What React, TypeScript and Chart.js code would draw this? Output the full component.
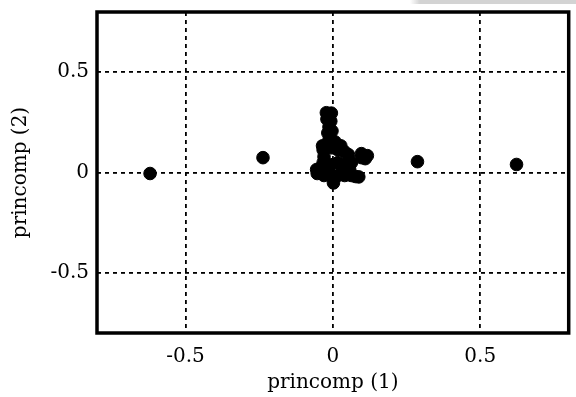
import React, { useEffect, useRef } from "react";
import { Chart, registerables } from "chart.js";

Chart.register(...registerables);

// Principal component scores
const pc1: number[] = [
  -0.62, -0.237, 0.287, 0.623,
  -0.022, -0.005, -0.02, -0.007, -0.013, -0.003, -0.017,
  -0.035, -0.033, -0.013, 0.007, 0.027, -0.003, 0.017, 0.04, 0.053, -0.03,
  0.097, 0.117, 0.11, 0.097,
  -0.055, -0.053, -0.04, -0.033, -0.03, -0.017, -0.007, -0.007, 0.017, 0.017,
  0.033, 0.04, 0.04, 0.057, 0.063, 0.063, 0.077, 0.088,
  0.002,
];
const pc2: number[] = [
  -0.005, 0.074, 0.054, 0.04,
  0.298, 0.296, 0.266, 0.256, 0.227, 0.207, 0.197,
  0.133, 0.113, 0.163, 0.153, 0.133, 0.123, 0.113, 0.103, 0.089, 0.079,
  0.094, 0.084, 0.069, 0.074,
  0.015, -0.005, 0.025, 0.049, -0.015, 0.015, 0.039, -0.015, 0.049, -0.015,
  0.015, 0.039, -0.015, 0.015, 0.049, -0.015, -0.02, -0.022,
  -0.052,
];

const xTicks: number[] = [-0.5, 0, 0.5];
const yTicks: number[] = [-0.5, 0, 0.5];
const xTitle = "princomp (1)";
const yTitle = "princomp (2)";

const FONT = "'DejaVu Serif', 'Liberation Serif', serif";

const framePlugin = {
  id: "frame",
  afterDraw(chart: any) {
    const { ctx, chartArea } = chart;
    const { left, top, right, bottom } = chartArea;
    ctx.save();
    ctx.strokeStyle = "#000";
    ctx.lineWidth = 3.5;
    ctx.strokeRect(left, top, right - left, bottom - top);
    ctx.restore();
  },
};

export default function App() {
  const canvasRef = useRef<HTMLCanvasElement | null>(null);

  useEffect(() => {
    const canvas = canvasRef.current;
    if (!canvas) return;
    const points = pc1.map((x, i) => ({ x, y: pc2[i] }));
    const fmt = (v: any) => (Number(v) === 0 ? "0" : String(Number(v)));
    const chart = new Chart(canvas, {
      type: "scatter",
      data: {
        datasets: [
          {
            data: points,
            backgroundColor: "#000",
            borderColor: "#000",
            borderWidth: 1,
            pointRadius: 6.3,
            pointHoverRadius: 6.3,
          },
        ],
      },
      options: {
        animation: false,
        responsive: false,
        events: [],
        layout: { padding: { top: 12, right: 5, left: 0, bottom: 0 } },
        plugins: {
          legend: { display: false },
          tooltip: { enabled: false },
        },
        scales: {
          x: {
            type: "linear",
            min: -0.8,
            max: 0.8,
            afterBuildTicks: (s: any) => {
              s.ticks = xTicks.map((v) => ({ value: v }));
            },
            afterFit: (s: any) => {
              s.height = 64;
              s.paddingLeft = 0;
              s.paddingRight = 0;
            },
            grid: { color: "#000", lineWidth: 1.8, drawTicks: false },
            border: { display: false, dash: [4, 4] },
            ticks: {
              color: "#000",
              font: { family: FONT, size: 20 },
              padding: 12,
              maxRotation: 0,
              callback: fmt,
            },
            title: {
              display: true,
              text: xTitle,
              color: "#000",
              font: { family: FONT, size: 20 },
              padding: { top: 0, bottom: 2 },
            },
          },
          y: {
            type: "linear",
            min: -0.8,
            max: 0.8,
            afterBuildTicks: (s: any) => {
              s.ticks = yTicks.map((v) => ({ value: v }));
            },
            afterFit: (s: any) => {
              s.width = 97;
              s.paddingTop = 0;
              s.paddingBottom = 0;
            },
            grid: { color: "#000", lineWidth: 1.8, drawTicks: false },
            border: { display: false, dash: [4, 4] },
            ticks: {
              color: "#000",
              font: { family: FONT, size: 20 },
              padding: 8,
              callback: fmt,
            },
            title: {
              display: true,
              text: yTitle,
              color: "#000",
              font: { family: FONT, size: 20 },
              padding: { top: 9, bottom: 0 },
            },
          },
        },
      },
      plugins: [framePlugin],
    });
    return () => chart.destroy();
  }, []);

  return (
    <div style={{ position: "absolute", left: 0, top: 0, width: 576, height: 397, background: "#fff" }}>
      <canvas ref={canvasRef} width={576} height={397} style={{ display: "block" }} />
      <div
        style={{
          position: "absolute",
          left: 410,
          top: 0,
          width: 166,
          height: 4,
          background: "linear-gradient(to right, rgba(211,211,211,0) 0px, #d3d3d3 10px, #d3d3d3 100%)",
        }}
      />
    </div>
  );
}
